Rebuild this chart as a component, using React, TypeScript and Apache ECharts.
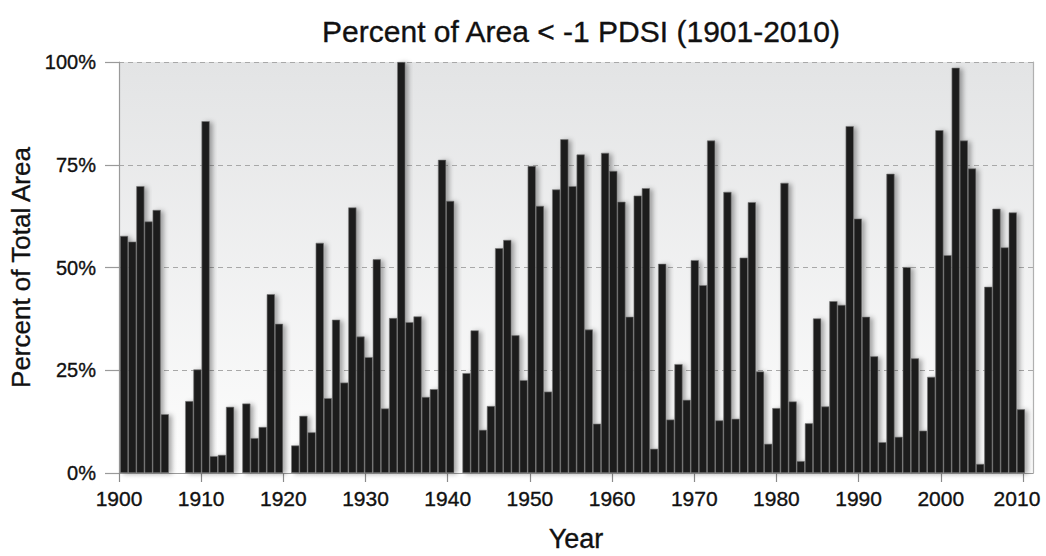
import React, { useEffect, useRef } from "react";
import * as echarts from "echarts";

// Years shown as bars (one slot per year; null = no drought area recorded)
const years: number[] = Array.from({ length: 111 }, (_, i) => 1900 + i);

// Percent of total area with PDSI < -1
const percentArea: (number | null)[] = [
  57.7, 56.3, 69.8, 61.2, 64.0, 14.3, null, null, 17.5, 25.2,
  85.6, 4.1, 4.4, 16.1, null, 16.9, 8.5, 11.2, 43.5, 36.3,
  null, 6.7, 13.9, 9.9, 56.0, 18.2, 37.3, 22.0, 64.6, 33.2,
  28.2, 52.0, 15.7, 37.7, 100, 36.7, 38.1, 18.5, 20.4, 76.2,
  66.2, null, 24.3, 34.7, 10.5, 16.3, 54.7, 56.7, 33.5, 22.6,
  74.7, 65.0, 19.8, 69.0, 81.2, 69.8, 77.5, 34.9, 12.0, 77.9,
  73.5, 66.0, 38.0, 67.5, 69.3, 5.9, 50.9, 13.0, 26.5, 17.8,
  51.8, 45.7, 80.9, 12.8, 68.4, 13.2, 52.4, 65.9, 24.7, 7.1,
  15.8, 70.6, 17.4, 2.9, 12.1, 37.6, 16.2, 41.8, 40.9, 84.4,
  61.9, 38.0, 28.4, 7.5, 72.8, 8.8, 50.1, 27.9, 10.3, 23.4,
  83.4, 53.0, 98.6, 80.9, 74.1, 2.2, 45.3, 64.3, 54.9, 63.4,
  15.5,
];

// Tick labels
const xTicks: number[] = [1900, 1910, 1920, 1930, 1940, 1950, 1960, 1970, 1980, 1990, 2000, 2010];
const yTicks: number[] = [0, 25, 50, 75, 100];

const FONT = "'Liberation Sans', Arial, sans-serif";
const INK = "#111111";
// slight stroke to mimic the medium-weight lettering of the original
const heavy = { textBorderColor: INK, textBorderWidth: 0.35 };

export default function App() {
  const ref = useRef<HTMLDivElement>(null);

  useEffect(() => {
    if (!ref.current) return;
    const chart = echarts.init(ref.current, undefined, { renderer: "svg" });
    const lastTick = xTicks[xTicks.length - 1];
    chart.setOption({
      animation: false,
      backgroundColor: "#ffffff",
      title: {
        text: "Percent of Area < -1 PDSI (1901-2010)",
        left: 576,
        top: 11,
        textAlign: "center",
        textStyle: { fontFamily: FONT, fontSize: 30, fontWeight: "normal", color: INK, ...heavy },
      },
      grid: {
        left: 119,
        right: 13,
        top: 62,
        bottom: 83,
        outerBoundsMode: "none",
        containLabel: false,
        show: true,
        borderWidth: 0,
        backgroundColor: {
          type: "linear",
          x: 0, y: 0, x2: 0, y2: 1,
          colorStops: [
            { offset: 0, color: "#e3e4e5" },
            { offset: 1, color: "#fdfdfd" },
          ],
        },
      },
      xAxis: [
        {
          type: "value",
          min: 1900,
          max: 2011.22,
          position: "bottom",
          axisLine: { show: true, lineStyle: { color: "#9a9a9a", width: 1.2 } },
          axisTick: { show: true, customValues: xTicks, length: 9, lineStyle: { color: "#8a8a8a", width: 1.2 } },
          axisLabel: {
            customValues: xTicks,
            formatter: (v: number) => (v === lastTick ? "{last|" + v + "}" : String(v)),
            margin: 15,
            fontFamily: FONT,
            fontSize: 21,
            color: INK,
            ...heavy,
            rich: {
              last: { fontFamily: FONT, fontSize: 21, color: INK, ...heavy, padding: [0, 12, 0, 0] },
            },
          },
          splitLine: { show: false },
          name: "Year",
          nameLocation: "middle",
          nameGap: 52,
          nameTextStyle: { fontFamily: FONT, fontSize: 27, lineHeight: 27, color: INK, ...heavy },
        },
        {
          type: "value",
          min: 1899.377,
          max: 2011.48,
          show: false,
          splitLine: { show: false },
        },
      ],
      yAxis: [
        {
          type: "value",
          min: 0,
          max: 100,
          interval: 25,
          axisLine: { show: true, lineStyle: { color: "#9a9a9a", width: 1.2 } },
          axisTick: { show: true, length: 14, lineStyle: { color: "#9a9a9a", width: 1.2 } },
          axisLabel: {
            customValues: yTicks,
            formatter: "{value}%",
            margin: 23,
            fontFamily: FONT,
            fontSize: 20,
            color: INK,
            ...heavy,
          },
          splitLine: { show: true, lineStyle: { color: "#a8a8a8", type: [5, 4], width: 1.2 } },
          name: "Percent of Total Area",
          nameLocation: "middle",
          nameGap: 79,
          nameRotate: 90,
          nameTextStyle: { fontFamily: FONT, fontSize: 26, color: INK, ...heavy },
        },
        {
          type: "value",
          min: 0,
          max: 100,
          position: "right",
          axisLine: { show: true, lineStyle: { color: "#b0b0b0", width: 1.2 } },
          axisTick: { show: false },
          axisLabel: { show: false },
          splitLine: { show: false },
        },
      ],
      series: [
        {
          type: "bar",
          xAxisIndex: 1,
          yAxisIndex: 0,
          barWidth: 8.15,
          data: years.map((y, i) => [y, percentArea[i]]),
          itemStyle: {
            color: "#1f1f1f",
            borderColor: "#767676",
            borderWidth: 0.6,
            shadowBlur: 5,
            shadowColor: "rgba(0,0,0,0.35)",
            shadowOffsetX: 3,
            shadowOffsetY: 1,
          },
        },
      ],
    });
    return () => chart.dispose();
  }, []);

  return (
    <div
      ref={ref}
      style={{ position: "fixed", left: 0, top: 0, width: 1046, height: 556 }}
    />
  );
}
